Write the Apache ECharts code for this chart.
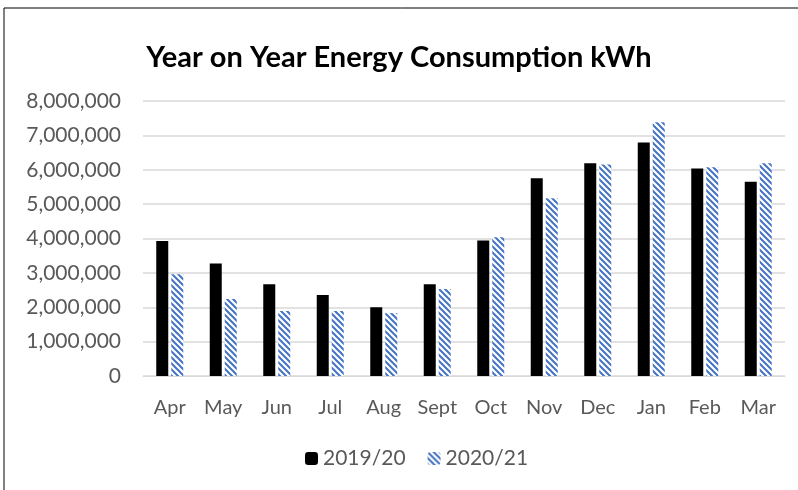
<!DOCTYPE html>
<html>
<head>
<meta charset="utf-8">
<script src="https://cdn.jsdelivr.net/npm/echarts@6/dist/echarts.min.js"></script>
<style>
  html, body { margin: 0; padding: 0; background: #fff; }
  #chart { width: 798px; height: 490px; }
</style>
</head>
<body>
<div id="chart"></div>
<script>
const months = ['Apr', 'May', 'Jun', 'Jul', 'Aug', 'Sept', 'Oct', 'Nov', 'Dec', 'Jan', 'Feb', 'Mar'];
const year1920 = [3930000, 3270000, 2670000, 2360000, 2000000, 2670000, 3940000, 5750000, 6190000, 6790000, 6040000, 5650000];
const year2021 = [2960000, 2240000, 1890000, 1890000, 1830000, 2530000, 4040000, 5170000, 6150000, 7380000, 6070000, 6190000];

// blue diagonal hatch like the Excel pattern fill
function makeHatch() {
  const c = document.createElement('canvas');
  c.width = 6; c.height = 6;
  const ctx = c.getContext('2d');
  ctx.fillStyle = '#fff';
  ctx.fillRect(0, 0, 6, 6);
  ctx.strokeStyle = '#4472C4';
  ctx.lineWidth = 2;
  ctx.beginPath();
  ctx.moveTo(-3, 3); ctx.lineTo(3, 9);
  ctx.moveTo(0, 0); ctx.lineTo(6, 6);
  ctx.moveTo(3, -3); ctx.lineTo(9, 3);
  ctx.stroke();
  return c;
}
const hatch = { image: makeHatch(), repeat: 'repeat' };

const myChart = echarts.init(document.getElementById('chart'));
const font = 'Lato, "Open Sans", sans-serif';

const option = {
  animation: false,
  textStyle: { fontFamily: font },
  graphic: [{
    type: 'rect',
    shape: { x: 4, y: 8, width: 810, height: 500 },
    style: { fill: 'none', stroke: '#000', lineWidth: 1 },
    silent: true
  }],
  title: {
    text: 'Year on Year Energy Consumption kWh',
    left: 'center',
    top: 38,
    textStyle: { fontSize: 29, fontWeight: 'bold', color: '#000', fontFamily: font }
  },
  legend: {
    bottom: 16,
    left: 300,
    itemWidth: 13,
    itemHeight: 13,
    itemGap: 22,
    textStyle: { fontSize: 21, color: '#595959', fontFamily: font },
    data: ['2019/20', '2020/21']
  },
  grid: { left: 143, right: 13, top: 101, bottom: 114, containLabel: false },
  xAxis: {
    type: 'category',
    data: months,
    axisTick: { show: false },
    axisLine: { lineStyle: { color: '#d9d9d9' } },
    axisLabel: { interval: 0, fontSize: 20, color: '#595959', margin: 22, fontFamily: font }
  },
  yAxis: {
    type: 'value',
    min: 0,
    max: 8000000,
    interval: 1000000,
    axisLine: { show: false },
    axisTick: { show: false },
    splitLine: { lineStyle: { color: '#d9d9d9', width: 1.5 } },
    axisLabel: {
      fontSize: 21, color: '#595959', margin: 22, fontFamily: font,
      formatter: v => v.toLocaleString('en-US')
    }
  },
  series: [
    {
      name: '2019/20',
      type: 'bar',
      data: year1920,
      barWidth: 12,
      barGap: '25%',
      itemStyle: { color: '#000' }
    },
    {
      name: '2020/21',
      type: 'bar',
      data: year2021,
      barWidth: 12,
      itemStyle: { color: hatch }
    }
  ]
};

option && myChart.setOption(option);
</script>
</body>
</html>
